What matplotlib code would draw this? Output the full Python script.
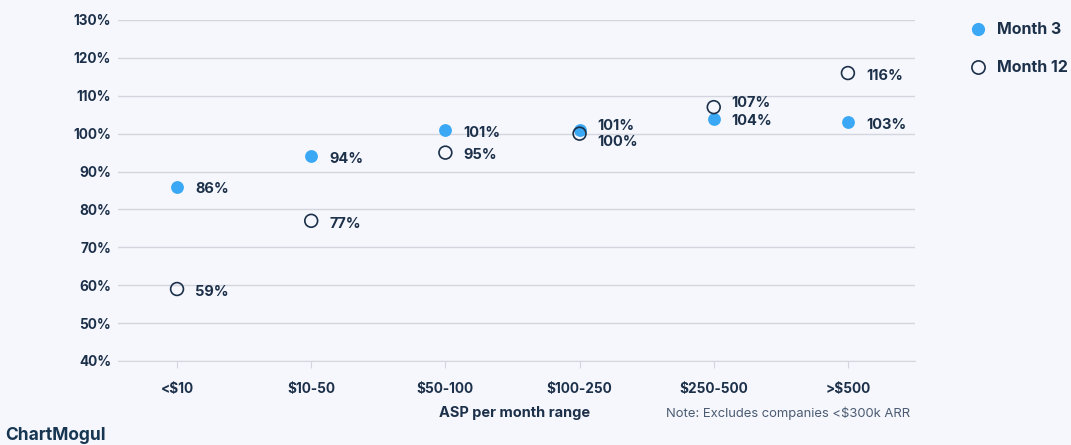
import numpy as np
import matplotlib.pyplot as plt
from matplotlib.lines import Line2D

plt.rcParams['font.family'] = ['Inter', 'DejaVu Sans']

categories = ['<$10', '$10-50', '$50-100', '$100-250', '$250-500', '>$500']
month3 = [86, 94, 101, 101, 104, 103]
month12 = [59, 77, 95, 100, 107, 116]
# vertical label nudges (points) where labels would collide
dy3 = [-2, -2, -2, 3, -2, -2]
dy12 = [-2, -2, -2, -6, 3, -2]

bg = '#F6F7FD'
navy = '#1C3049'
blue = '#3AA8F4'
grid = '#D3D6DE'

fig = plt.figure(figsize=(10.71, 4.45), dpi=100, facecolor=bg)
ax = fig.add_axes([118/1071, 1 - 361/445, (915 - 118)/1071, (361 - 20)/445])
ax.set_facecolor(bg)

x = np.arange(len(categories))
ax.scatter(x, month3, s=85, color=blue, zorder=3, linewidths=0)
ax.scatter(x, month12, s=85, facecolor='none', edgecolor=navy, linewidths=1.2, zorder=4)

for xi, v, d in zip(x, month3, dy3):
    ax.annotate(f'{v}%', (xi, v), xytext=(13, d), textcoords='offset points',
                va='center', ha='left', fontsize=10.5, fontweight='bold', color=navy)
for xi, v, d in zip(x, month12, dy12):
    ax.annotate(f'{v}%', (xi, v), xytext=(13, d), textcoords='offset points',
                va='center', ha='left', fontsize=10.5, fontweight='bold', color=navy)

ax.set_xlim(-0.44, 5.5)
ax.set_ylim(40, 130)
ax.set_yticks(range(40, 131, 10))
ax.set_yticklabels([f'{t}%' for t in range(40, 131, 10)])
ax.set_xticks(x)
ax.set_xticklabels(categories)
ax.grid(axis='y', color=grid, linewidth=1)
ax.set_axisbelow(True)
for s in ['top', 'right', 'left']:
    ax.spines[s].set_visible(False)
ax.spines['bottom'].set_color(grid)
ax.tick_params(axis='y', length=0, pad=5, labelsize=9.8, labelcolor=navy)
ax.tick_params(axis='x', length=5, color=grid, pad=10, labelsize=9.8, labelcolor=navy)
for lbl in ax.get_xticklabels() + ax.get_yticklabels():
    lbl.set_fontweight('bold')

fig.text(515/1071, 1 - 413/445, 'ASP per month range', ha='center', va='center',
         fontsize=10.5, fontweight='bold', color=navy)
fig.text(666/1071, 1 - 413/445, 'Note: Excludes companies <$300k ARR', ha='left', va='center',
         fontsize=9.4, color='#4B5B71')
fig.text(5/1071, 1 - 435/445, 'ChartMogul', ha='left', va='center',
         fontsize=12.5, fontweight='bold', color='#173651')

# legend drawn by hand in figure coordinates
legend_labels = ['Month 3', 'Month 12']
legend_y = [29, 67]
styles = [dict(markerfacecolor=blue, markeredgewidth=0),
          dict(markerfacecolor='none', markeredgecolor=navy, markeredgewidth=1.2)]
for lab, yy, st in zip(legend_labels, legend_y, styles):
    fig.add_artist(Line2D([978/1071], [1 - yy/445], transform=fig.transFigure, marker='o',
                          linestyle='', markersize=9.5, **st))
    fig.text(997/1071, 1 - yy/445, lab, ha='left', va='center', fontsize=11.5,
             fontweight='bold', color=navy)

fig.savefig('out.png', dpi=100, facecolor=bg)
